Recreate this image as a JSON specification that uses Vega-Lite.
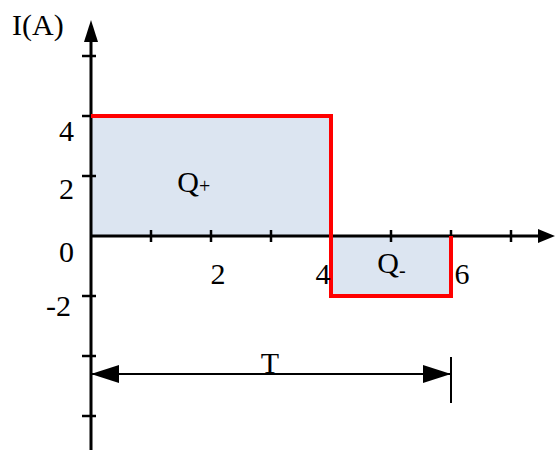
{
  "$schema": "https://vega.github.io/schema/vega-lite/v6.json",
  "width": 555,
  "height": 450,
  "padding": 0,
  "autosize": {"type": "none"},
  "background": "white",
  "config": {"view": {"stroke": null}},
  "encoding": {
    "x": {"field": "x", "type": "quantitative", "axis": null, "scale": {"domain": [-1.5167, 7.7333], "nice": false, "zero": false}},
    "y": {"field": "y", "type": "quantitative", "axis": null, "scale": {"domain": [-7.1333, 7.8667], "nice": false, "zero": false}}
  },
  "layer": [
    {
      "data": {"values": [{"x": 0, "x2": 4, "y": 0, "y2": 4}, {"x": 4, "x2": 6, "y": -2, "y2": 0}]},
      "mark": {"type": "rect", "color": "#dce5f1", "clip": false},
      "encoding": {"x2": {"field": "x2"}, "y2": {"field": "y2"}}
    },
    {
      "data": {"values": [{"x": 0, "x2": 7.5, "y": 0, "y2": 0}, {"x": 0, "x2": 0, "y": -7.2, "y2": 7.0}]},
      "mark": {"type": "rule", "color": "black", "strokeWidth": 3, "clip": false},
      "encoding": {"x2": {"field": "x2"}, "y2": {"field": "y2"}}
    },
    {
      "data": {"values": [{"x": 1, "y": 0.2, "y2": -0.2}, {"x": 2, "y": 0.2, "y2": -0.2}, {"x": 3, "y": 0.2, "y2": -0.2}, {"x": 4, "y": 0.2, "y2": -0.2}, {"x": 5, "y": 0.2, "y2": -0.2}, {"x": 6, "y": 0.2, "y2": -0.2}, {"x": 7, "y": 0.2, "y2": -0.2}]},
      "mark": {"type": "rule", "color": "black", "strokeWidth": 2.5},
      "encoding": {"y2": {"field": "y2"}}
    },
    {
      "data": {"values": [{"x": -0.15, "x2": 0.083, "y": 6}, {"x": -0.15, "x2": 0.083, "y": 4}, {"x": -0.15, "x2": 0.083, "y": 2}, {"x": -0.15, "x2": 0.083, "y": -2}, {"x": -0.15, "x2": 0.083, "y": -4}, {"x": -0.15, "x2": 0.083, "y": -6}]},
      "mark": {"type": "rule", "color": "black", "strokeWidth": 2.5},
      "encoding": {"x2": {"field": "x2"}}
    },
    {
      "data": {"values": [{"i": 0, "x": 0, "y": 4}, {"i": 1, "x": 4, "y": 4}, {"i": 2, "x": 4, "y": -2}, {"i": 3, "x": 6, "y": -2}, {"i": 4, "x": 6, "y": 0}]},
      "mark": {"type": "line", "color": "#ff0000", "strokeWidth": 4, "strokeJoin": "miter", "strokeCap": "butt"},
      "encoding": {"order": {"field": "i", "type": "quantitative"}}
    },
    {
      "data": {"values": [{"x": 0, "x2": 6, "y": -4.6}]},
      "mark": {"type": "rule", "color": "black", "strokeWidth": 2},
      "encoding": {"x2": {"field": "x2"}}
    },
    {
      "data": {"values": [{"x": 6, "y": -4.033, "y2": -5.567}]},
      "mark": {"type": "rule", "color": "black", "strokeWidth": 2},
      "encoding": {"y2": {"field": "y2"}}
    },
    {
      "data": {"values": [{"x": 0, "y": 7.2}]},
      "mark": {"type": "point", "shape": "M0,0L-1,3.14L1,3.14Z", "size": 196, "filled": true, "color": "black", "opacity": 1, "strokeWidth": 0, "clip": false}
    },
    {
      "data": {"values": [{"x": 7.733, "y": 0}]},
      "mark": {"type": "point", "shape": "M0,0L-2.43,-1L-2.43,1Z", "size": 196, "filled": true, "color": "black", "opacity": 1, "strokeWidth": 0, "clip": false}
    },
    {
      "data": {"values": [{"x": 0, "y": -4.6}]},
      "mark": {"type": "point", "shape": "M0,0L4,-1.29L4,1.29Z", "size": 196, "filled": true, "color": "black", "opacity": 1, "strokeWidth": 0}
    },
    {
      "data": {"values": [{"x": 6, "y": -4.6}]},
      "mark": {"type": "point", "shape": "M0,0L-4,-1.29L-4,1.29Z", "size": 196, "filled": true, "color": "black", "opacity": 1, "strokeWidth": 0}
    },
    {
      "data": {"values": [{"x": -1.317, "y": 6.7, "label": "I(A)"}]},
      "mark": {"type": "text", "align": "left", "baseline": "alphabetic", "font": "Liberation Serif", "fontSize": 30, "color": "black"},
      "encoding": {"text": {"field": "label"}}
    },
    {
      "data": {"values": [{"x": -0.283, "y": 3.167, "label": "4"}, {"x": -0.283, "y": 1.233, "label": "2"}, {"x": -0.283, "y": -0.867, "label": "0"}, {"x": -0.333, "y": -2.667, "label": "-2"}, {"x": 1.8, "y": 1.467, "label": "Q"}, {"x": 5.133, "y": -1.233, "label": "Q"}]},
      "mark": {"type": "text", "align": "right", "baseline": "alphabetic", "font": "Liberation Serif", "fontSize": 30, "color": "black"},
      "encoding": {"text": {"field": "label"}}
    },
    {
      "data": {"values": [{"x": 2.117, "y": -1.6, "label": "2"}, {"x": 3.867, "y": -1.6, "label": "4"}, {"x": 6.183, "y": -1.6, "label": "6"}, {"x": 2.983, "y": -4.567, "label": "T"}]},
      "mark": {"type": "text", "align": "center", "baseline": "alphabetic", "font": "Liberation Serif", "fontSize": 30, "color": "black"},
      "encoding": {"text": {"field": "label"}}
    },
    {
      "data": {"values": [{"x": 1.8, "y": 1.433, "label": "+"}, {"x": 5.133, "y": -1.35, "label": "-"}]},
      "mark": {"type": "text", "align": "left", "baseline": "alphabetic", "font": "Liberation Serif", "fontSize": 20, "color": "black"},
      "encoding": {"text": {"field": "label"}}
    }
  ]
}
